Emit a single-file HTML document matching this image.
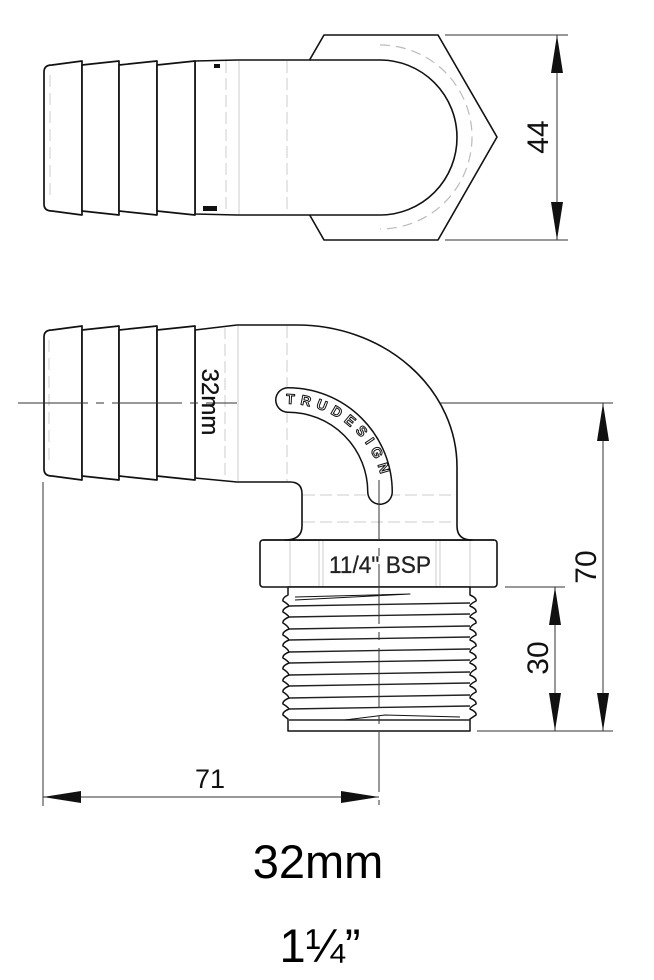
<!DOCTYPE html>
<html><head><meta charset="utf-8"><style>
html,body{margin:0;padding:0;background:#fff}
svg{display:block}
text{font-family:"Liberation Sans",Arial,sans-serif}
</style></head><body>
<svg width="654" height="980" viewBox="0 0 654 980" xmlns="http://www.w3.org/2000/svg">
<defs>
<path id="band" d="M 288,400 A 92 92 0 0 1 380,492"/>
<path id="tband" d="M 284,404 A 96 96 0 0 1 384,500"/>
</defs>
<g fill="none" stroke-linejoin="round">
<!-- ===== TOP VIEW ===== -->
<polygon points="324,35 438,35 497,137 438,240 324,240 265,137" fill="#fff" stroke="#111" stroke-width="1.6"/>
<path d="M 380,45 A 92 92 0 0 1 380,229" stroke="#bbb" stroke-width="1.2" stroke-dasharray="10,6"/>
<path d="M 195,61 L 237,60 L 380,60 A 77 77.5 0 0 1 380,215 L 237,215 L 195,214 Z" fill="#fff" stroke="#111" stroke-width="1.6"/>
<line x1="226" y1="61" x2="226" y2="214" stroke="#ccc" stroke-width="1" stroke-dasharray="12,5"/>
<line x1="239" y1="61" x2="239" y2="214" stroke="#ccc" stroke-width="1"/>
<line x1="287" y1="61" x2="287" y2="214" stroke="#ccc" stroke-width="1" stroke-dasharray="12,5"/>
<path d="M 44,72 Q 44,65 52,65 L 82,61 L 82,215 L 52,211 Q 44,211 44,204 Z" fill="#fff" stroke="#111" stroke-width="1.7"/>
<path d="M 82,65 L 119,61 L 119,215 L 82,211 Z" fill="#fff" stroke="#111" stroke-width="1.7"/>
<path d="M 119,65 L 157,61 L 157,215 L 119,211 Z" fill="#fff" stroke="#111" stroke-width="1.7"/>
<path d="M 157,65 L 195,61 L 195,215 L 157,211 Z" fill="#fff" stroke="#111" stroke-width="1.7"/>
<line x1="50" y1="75" x2="50" y2="200" stroke="#ccc" stroke-width="1" stroke-dasharray="12,6"/>
<rect x="214" y="64" width="6" height="4" fill="#111" stroke="none"/>
<rect x="203" y="206" width="14" height="5" fill="#111" stroke="none"/>
<!-- dim 44 -->
<line x1="445" y1="35" x2="568" y2="35" stroke="#333" stroke-width="1"/>
<line x1="445" y1="240" x2="568" y2="240" stroke="#333" stroke-width="1"/>
<line x1="557" y1="35" x2="557" y2="240" stroke="#333" stroke-width="1"/>
<polygon points="557,35 551,73 563,73" fill="#111" stroke="none"/>
<polygon points="557,240 551,202 563,202" fill="#111" stroke="none"/>

<!-- ===== FRONT VIEW ===== -->
<line x1="18" y1="403" x2="612" y2="403" stroke="#333" stroke-width="1" stroke-dasharray="70,8,8,8"/>
<rect x="260" y="540" width="237" height="47" rx="3" fill="#fff" stroke="#111" stroke-width="1.6"/>
<line x1="290" y1="541" x2="290" y2="586" stroke="#ccc"/>
<line x1="319" y1="541" x2="319" y2="586" stroke="#ccc"/>
<line x1="323" y1="541" x2="323" y2="586" stroke="#ccc"/>
<line x1="436" y1="541" x2="436" y2="586" stroke="#ccc"/>
<line x1="440" y1="541" x2="440" y2="586" stroke="#ccc"/>
<line x1="470" y1="541" x2="470" y2="586" stroke="#ccc"/>
<path d="M 195,330 L 237,325 L 297,325 A 160 142 0 0 1 457,467 L 457,526 Q 457,540 472,540 L 285,540 Q 302,540 302,526 L 302,494 Q 302,482 290,482 L 237,482 L 195,478 Z" fill="#fff" stroke="#111" stroke-width="1.6"/>
<line x1="263" y1="540" x2="494" y2="540" stroke="#111" stroke-width="1.6"/>
<line x1="225" y1="327" x2="225" y2="480" stroke="#ccc" stroke-dasharray="12,5"/>
<line x1="238" y1="326" x2="238" y2="481" stroke="#ccc"/>
<line x1="287" y1="326" x2="287" y2="481" stroke="#ccc" stroke-dasharray="12,5"/>
<line x1="303" y1="495" x2="456" y2="495" stroke="#ccc" stroke-dasharray="12,5"/>
<line x1="303" y1="522" x2="456" y2="522" stroke="#ccc" stroke-dasharray="12,5"/>
<path d="M 44,337 Q 44,330 52,330 L 82,326 L 82,480 L 52,476 Q 44,476 44,469 Z" fill="#fff" stroke="#111" stroke-width="1.7"/>
<path d="M 82,330 L 119,326 L 119,480 L 82,476 Z" fill="#fff" stroke="#111" stroke-width="1.7"/>
<path d="M 119,330 L 157,326 L 157,480 L 119,476 Z" fill="#fff" stroke="#111" stroke-width="1.7"/>
<path d="M 157,330 L 195,326 L 195,480 L 157,476 Z" fill="#fff" stroke="#111" stroke-width="1.7"/>
<line x1="49" y1="340" x2="49" y2="465" stroke="#ccc" stroke-dasharray="12,6"/>
<line x1="18" y1="403" x2="237" y2="403" stroke="#333" stroke-width="1" stroke-dasharray="70,8,8,8"/>
<!-- TRUDESIGN band -->
<use href="#band" stroke="#111" stroke-width="26" stroke-linecap="round"/>
<use href="#band" stroke="#fff" stroke-width="23" stroke-linecap="round"/>
<text font-size="14" font-weight="bold" fill="#fff" stroke="#111" stroke-width="1" letter-spacing="5.5"><textPath href="#tband" startOffset="2">TRUDESIGN</textPath></text>
<!-- thread -->
<path d="M 288,587 L 288,595 Q 282,598 283,601 Q 288,604 289,606 Q 282,609 283,612 Q 288,615 289,617 Q 282,620 283,623 Q 288,626 289,629 Q 282,632 283,635 Q 288,638 289,640 Q 282,643 283,646 Q 288,649 289,652 Q 282,655 283,658 Q 288,661 289,663 Q 282,666 283,669 Q 288,672 289,675 Q 282,678 283,681 Q 288,684 289,686 Q 282,689 283,692 Q 288,695 289,698 Q 282,701 283,704 Q 288,707 289,709 Q 282,712 283,715 L 288,719 L 288,731 L 470,731 L 470,719 L 476,715 Q 477,712 470,709 Q 470,707 476,704 Q 477,701 470,698 Q 470,695 476,692 Q 477,689 470,686 Q 470,684 476,681 Q 477,678 470,675 Q 470,672 476,669 Q 477,666 470,663 Q 470,661 476,658 Q 477,655 470,652 Q 470,649 476,646 Q 477,643 470,640 Q 470,638 476,635 Q 477,632 470,629 Q 470,626 476,623 Q 477,620 470,617 Q 470,615 476,612 Q 477,609 470,606 Q 470,604 476,601 Q 477,598 470,595 L 470,587 Z" fill="#fff" stroke="#111" stroke-width="1.5"/>
<g stroke="#222" stroke-width="1.4">
<line x1="289" y1="606" x2="470" y2="603"/>
<line x1="289" y1="617" x2="470" y2="614"/>
<line x1="289" y1="629" x2="470" y2="626"/>
<line x1="289" y1="640" x2="470" y2="637"/>
<line x1="289" y1="652" x2="470" y2="649"/>
<line x1="289" y1="663" x2="470" y2="660"/>
<line x1="289" y1="675" x2="470" y2="672"/>
<line x1="289" y1="686" x2="470" y2="683"/>
<line x1="289" y1="698" x2="470" y2="695"/>
<line x1="289" y1="709" x2="470" y2="706"/>
<line x1="289" y1="720" x2="470" y2="720"/>
</g>
<path d="M 295,597 L 410,594 L 295,600" stroke="#111" stroke-width="1"/>
<path d="M 345,720 L 385,715 L 460,717" stroke="#111" stroke-width="1"/>
<line x1="379" y1="480" x2="379" y2="805" stroke="#333" stroke-width="1" stroke-dasharray="60,8,8,8"/>
<line x1="43" y1="482" x2="43" y2="806" stroke="#333" stroke-width="1"/>
<line x1="43" y1="797" x2="379" y2="797" stroke="#333" stroke-width="1"/>
<polygon points="43,797 81,791 81,803" fill="#111" stroke="none"/>
<polygon points="379,797 341,791 341,803" fill="#111" stroke="none"/>
<line x1="477" y1="731" x2="613" y2="731" stroke="#333" stroke-width="1"/>
<line x1="505" y1="587" x2="565" y2="587" stroke="#333" stroke-width="1"/>
<line x1="460" y1="403" x2="613" y2="403" stroke="#333" stroke-width="1"/>
<line x1="603" y1="403" x2="603" y2="731" stroke="#333" stroke-width="1"/>
<polygon points="603,403 597,441 609,441" fill="#111" stroke="none"/>
<polygon points="603,731 597,693 609,693" fill="#111" stroke="none"/>
<line x1="555" y1="587" x2="555" y2="731" stroke="#333" stroke-width="1"/>
<polygon points="555,587 549,625 561,625" fill="#111" stroke="none"/>
<polygon points="555,731 549,693 561,693" fill="#111" stroke="none"/>
</g>
<text x="0" y="0" font-size="30" fill="#111" text-anchor="middle" transform="translate(548,137) rotate(-90)">44</text>
<text x="0" y="0" font-size="30" fill="#111" text-anchor="middle" transform="translate(596,567) rotate(-90)">70</text>
<text x="0" y="0" font-size="30" fill="#111" text-anchor="middle" transform="translate(548,658) rotate(-90)">30</text>
<text x="210" y="788" font-size="27" fill="#111" text-anchor="middle">71</text>
<text x="0" y="0" font-size="24" fill="#111" stroke="#111" stroke-width="0.3" text-anchor="middle" transform="translate(202,402) rotate(90)">32mm</text>
<text x="380" y="573" font-size="24" fill="#222" stroke="#222" stroke-width="0.3" text-anchor="middle" textLength="102" lengthAdjust="spacingAndGlyphs">11/4" BSP</text>
<text x="318" y="878" font-size="47" fill="#000" text-anchor="middle">32mm</text>
<text x="320" y="962" font-size="47" fill="#000" text-anchor="middle">1¼”</text>
</svg>
</body></html>
